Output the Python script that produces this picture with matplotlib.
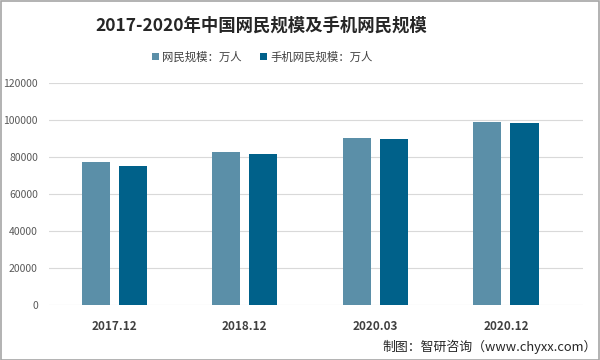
import matplotlib
matplotlib.use("Agg")
import matplotlib.pyplot as plt
import numpy as np
from matplotlib.patches import Rectangle

plt.rcParams['font.family'] = ['Noto Sans CJK SC', 'DejaVu Sans']

categories = ["2017.12", "2018.12", "2020.03", "2020.12"]
netizens = [77198, 82851, 90359, 98899]
mobile = [75265, 81698, 89671, 98576]
series_names = ["网民规模：万人", "手机网民规模：万人"]
yticks = [0, 20000, 40000, 60000, 80000, 100000, 120000]

c_light = "#5b8fa8"
c_dark = "#00618a"

fig = plt.figure(figsize=(6, 3.6), dpi=100)
ax = fig.add_axes([0.0817, 0.153, 0.89, 0.616])

x = np.arange(len(categories))
w = 0.215
off = 0.142
ax.bar(x - off, netizens, width=w, color=c_light, label=series_names[0], zorder=3)
ax.bar(x + off, mobile, width=w, color=c_dark, label=series_names[1], zorder=3)

ax.set_xlim(-0.5, 3.59)
ax.set_ylim(0, 120000)
ax.set_yticks(yticks)
ax.set_yticklabels([str(v) for v in yticks], fontsize=7.5, color="#595959")
ax.set_xticks(x)
ax.set_xticklabels(categories, fontsize=8.5, fontweight="bold", color="#404040")
ax.tick_params(axis="both", length=0)
ax.tick_params(axis="y", pad=8)
ax.tick_params(axis="x", pad=11)
ax.grid(axis="y", color="#d9d9d9", linewidth=0.8, zorder=0)
for s in ax.spines.values():
    s.set_visible(False)

fig.text(0.435, 0.93, "2017-2020年中国网民规模及手机网民规模", ha="center", va="center",
         fontsize=12.5, fontweight="bold", color="#262626")

leg = fig.legend(loc="center", bbox_to_anchor=(0.437, 0.842), ncol=2, frameon=False,
                 fontsize=8.2, handlelength=0.6, handleheight=0.6, handletextpad=0.3,
                 columnspacing=1.6, labelcolor="#404040")

fig.text(0.995, 0.036, "制图：智研咨询（www.chyxx.com）", ha="right", va="center",
         fontsize=9.3, color="#262626")

fig.patches.append(Rectangle((0.001, 0.001), 0.997, 0.997, transform=fig.transFigure,
                             fill=False, edgecolor="#a6a6a6", linewidth=1.2))

fig.savefig("out.png", dpi=100, facecolor="white")
